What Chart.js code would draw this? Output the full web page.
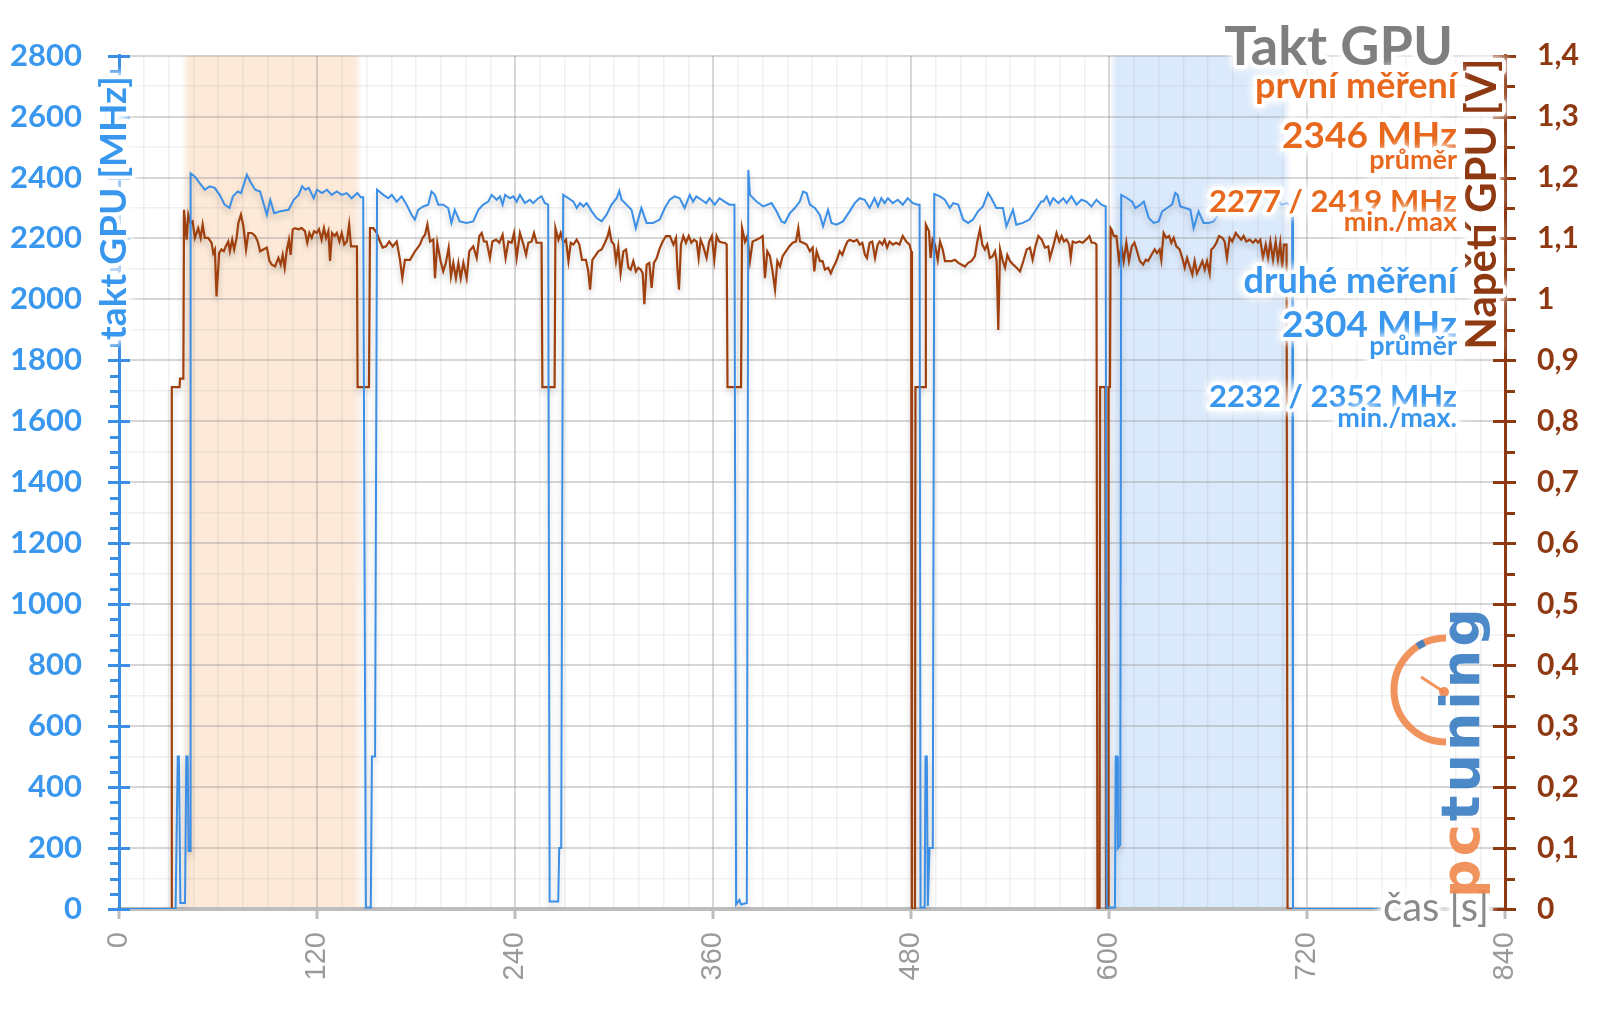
<!DOCTYPE html>
<html>
<head>
<meta charset="utf-8">
<script src="https://cdn.jsdelivr.net/npm/chart.js@4.4.1/dist/chart.umd.min.js"></script>
<style>
  html, body { margin: 0; padding: 0; background: #fff; }
  #wrap { width: 1600px; height: 1009px; }
</style>
</head>
<body>
<div id="wrap"><canvas id="chart" width="1600" height="1009"></canvas></div>
<script>
// takt GPU [MHz] v case [s]
const clockTime = [0, 34.3, 35.6, 36.3, 37.2, 40, 40.8, 41.6, 42.2, 43.1, 43.4, 46, 49, 52, 55, 58, 61, 64, 67, 69, 72, 74, 77.5, 79.5, 82.5, 85.5, 89.6, 91.7, 94, 97.8, 102.8, 105.9, 108.9, 111, 113, 115, 118, 120, 123, 126, 129, 132, 135, 138, 141, 144.5, 146.5, 148,
  149.6, 152.6, 153.3, 155.2, 156.4, 160.2, 163.2, 165.3, 168.3, 171.3, 174.3, 177.3, 179.3, 181.3, 184.4, 187.4, 189.4, 191.4, 193.5, 196.5, 199.5, 201.5, 203.5, 206.5, 210.7, 214.7, 217.8, 220.8, 223.8, 225.9, 228.9, 230.9, 232.5, 234, 237, 239, 241, 243, 246, 249, 251, 254.1, 256.1, 258.1, 260.1,
  261, 266.2, 266.8, 268, 269.2, 272.4, 275.4, 277.4, 279.4, 281.4, 283.4, 286.5, 289.5, 292.5, 295.5, 298.5, 301.6, 303.2, 304.6, 307.6, 310.6, 313.2, 316.6, 319.7, 323.7, 327.7, 330.8, 333.8, 336.8, 339.8, 342.8, 345.9, 347.9, 349.9, 352.9, 355.9, 357.9, 361, 364, 367, 370, 373,
  374, 376, 377, 380.5, 381.4, 382.4, 386.4, 390.4, 395.5, 398.5, 401.5, 403.5, 406.6, 409.6, 412.6, 414.6, 416.7, 418.7, 421.7, 424.7, 426.7, 429.7, 431.8, 434.8, 438.8, 442.8, 445.9, 448.9, 451.9, 454.9, 457.9, 460, 462, 464, 466, 469, 472, 475, 478, 481.1, 484.1, 485.2,
  485.8, 488.3, 488.8, 489.6, 490.2, 491.2, 493.2, 494.1, 497.5, 500.5, 503.5, 505.6, 508.6, 511.6, 514.6, 517.6, 520.6, 523.6, 526.7, 528.7, 531.7, 535.7, 537.8, 541.8, 543.8, 547.8, 551.8, 555.8, 558.9, 560.2, 562.2, 564.2, 566.2, 569.3, 572.3, 574.3, 577.3, 580.3, 583.3, 586.3, 589.4, 592.4, 595.4, 598,
  598.6, 603.6, 604.1, 604.9, 605.4, 606.8, 607.4, 611, 614, 616, 619.1, 621.1, 624.1, 627.1, 630.1, 632.2, 635.2, 638.2, 640.2, 641.6, 643.2, 646.3, 649.3, 651.3, 654.3, 657.3, 660.3, 663.4, 666.4, 670, 674, 678, 682, 686, 690, 694, 698, 702, 704.3, 708, 711,
  711.5, 765];
const clockMHz = [0, 0, 500, 500, 20, 20, 500, 500, 190, 190, 2414, 2403, 2381, 2360, 2371, 2366, 2343, 2311, 2300, 2338, 2354, 2349, 2409, 2387, 2360, 2354, 2278, 2327, 2283, 2289, 2294, 2327, 2343, 2371, 2360, 2366, 2332, 2360, 2349, 2360, 2343, 2354, 2343, 2349, 2332, 2349, 2335, 2335,
  5, 5, 500, 500, 2360, 2343, 2332, 2343, 2321, 2338, 2311, 2278, 2262, 2294, 2305, 2311, 2354, 2343, 2311, 2311, 2300, 2251, 2294, 2256, 2251, 2256, 2294, 2311, 2321, 2343, 2327, 2338, 2311, 2343, 2332, 2338, 2321, 2343, 2316, 2327, 2316, 2332, 2338, 2316, 2311,
  25, 25, 200, 200, 2343, 2332, 2321, 2300, 2316, 2305, 2316, 2289, 2267, 2256, 2278, 2311, 2332, 2356, 2327, 2311, 2294, 2234, 2300, 2251, 2251, 2262, 2300, 2327, 2338, 2332, 2300, 2343, 2321, 2338, 2327, 2316, 2332, 2311, 2332, 2321, 2311, 2311,
  15, 30, 15, 20, 2425, 2343, 2321, 2305, 2316, 2289, 2256, 2251, 2283, 2300, 2321, 2354, 2349, 2311, 2300, 2278, 2240, 2294, 2251, 2245, 2256, 2289, 2316, 2332, 2327, 2300, 2332, 2305, 2332, 2316, 2332, 2316, 2327, 2311, 2332, 2316, 2311, 2311,
  5, 5, 500, 500, 10, 200, 200, 2346, 2338, 2327, 2300, 2316, 2311, 2262, 2251, 2262, 2289, 2305, 2349, 2332, 2300, 2300, 2240, 2294, 2245, 2251, 2262, 2294, 2321, 2321, 2338, 2311, 2332, 2316, 2332, 2316, 2338, 2311, 2327, 2321, 2305, 2327, 2311, 2305,
  5, 5, 500, 500, 200, 210, 2343, 2332, 2321, 2300, 2311, 2321, 2267, 2251, 2256, 2289, 2300, 2311, 2349, 2343, 2305, 2300, 2294, 2234, 2289, 2251, 2251, 2256, 2278, 2300, 2321, 2332, 2316, 2327, 2321, 2335, 2321, 2332, 2311, 2316, 2300,
  0, 0];

// Napeti GPU [V] v case [s]
const voltTime = [0, 31.8, 32, 36.7, 37, 39, 39.4, 41, 42, 43.4, 44.6, 46, 48, 49.5, 50.7, 52, 54, 56.1, 57.1, 58.1, 59.1, 60.7, 62.1, 63.5, 64.7, 66.2, 67.2, 68.6, 69.8, 71.3, 72.3, 73.9, 75.4, 77, 78.4, 80.4, 82.5, 84.1, 85.5, 87.5, 89.6, 91.2, 92.6, 94.6, 96.6, 98, 99.2, 100.4, 101.6, 103, 104, 105.3, 106.7, 108.7, 110.7, 112.7, 114.1, 115.4, 116.8, 118.2, 119.8, 121.2, 122.8, 124.2, 125.5, 126.9, 127.9, 129.1, 130.6, 132, 133.6, 135, 136.5, 138.1, 139.5, 140.6, 142.2, 144.2,
  144.6, 151.5, 152.1, 154.1, 156.2, 158.2, 159.8, 161.8, 163.8, 165.9, 168.3, 170.3, 171.7, 173.3, 176.4, 179.4, 182.4, 184, 185.5, 186.9, 188.5, 190.5, 191.5, 192.9, 194.9, 196.5, 198.1, 199.8, 201.2, 202.6, 204.2, 205.7, 207.1, 208.7, 210.7, 212.3, 214.7, 216.8, 218.4, 219.8, 221.2, 222.8, 224.8, 226.3, 228.5, 230.5, 232.5, 234.3, 236, 238, 239.4, 241, 243, 245.1, 246.7, 248.1, 250.1, 251.5, 253.1, 256.1,
  256.6, 264, 264.5, 266.3, 267.7, 269.3, 270.9, 272.4, 273.8, 275.4, 277.4, 279, 280.6, 283, 284.4, 285.5, 286.9, 288.5, 290.5, 292.5, 294.5, 296.2, 297.2, 298.5, 300, 301.2, 302.6, 304, 305.7, 307.3, 308.7, 310.1, 311.7, 313.3, 314.7, 316.2, 317.4, 318.4, 319.8, 321.4, 322.8, 324.2, 325.9, 327.5, 329.5, 331.5, 333.9, 336, 337.6, 338.4, 339.4, 340.6, 342, 343.6, 345.3, 346.9, 348.5, 350.1, 351.3, 352.5, 354.1, 356.1, 357.7, 359.3, 360.8, 362.2, 363.8, 365.8, 367.2, 368.3,
  368.8, 377, 377.6, 379.4, 380.8, 382.4, 384, 386.4, 388.5, 390.1, 391.5, 392.9, 394.5, 396.1, 397.6, 399, 400.6, 402.2, 404.2, 406.2, 408.3, 410.3, 411.7, 412.7, 414.7, 416.7, 418.7, 420.4, 421.4, 422.8, 424.8, 426.4, 427.8, 429.8, 431.4, 432.8, 434.8, 436.8, 438.4, 439.9, 441.5, 442.9, 445.3, 447.3, 448.9, 450.5, 452.1, 453.3, 454.9, 456.5, 458.2, 459.8, 461, 462.6, 464, 465.5, 467, 469, 471, 473, 475, 477.1, 479.1, 480.1,
  480.6, 482.4, 482.7, 488.5, 489, 490.9, 491.9, 493.1, 494.5, 496.2, 497.6, 499.2, 500.6, 502.6, 504.6, 506.6, 508.7, 510.7, 512.7, 514.7, 516.7, 518.7, 520.2, 521.8, 523.2, 524.8, 526.2, 527.8, 529.5, 530.9, 531.9, 532.9, 534, 535.6, 537, 538.4, 540, 542, 544, 546.1, 548.1, 550.1, 552.1, 553.7, 555.4, 557.2, 559.2, 561.2, 563.2, 564.2, 566.2, 568.2, 569.9, 571.3, 572.7, 574.3, 575.9, 576.8, 578, 580, 582, 584, 586.1, 588.1, 589.5, 591.1, 592.4,
  593, 594.3, 594.6, 597.8, 598.2, 599.4, 599.7, 600.6, 601, 601.5, 602.9, 604.5, 606.1, 607.5, 608.9, 610.5, 612.1, 613.8, 615.4, 617, 618.7, 620.7, 622.3, 623.7, 625.7, 627.7, 629.1, 630.7, 631.7, 633.1, 634.7, 636.4, 637.8, 639.2, 640.8, 642.8, 644.4, 645.9, 647.3, 648.9, 650.5, 651.9, 653.3, 654.9, 656.6, 658, 659.4, 661, 662, 663.4, 665.1, 666.7, 668.7, 670.1, 671.5, 673.1, 674.7, 676.8, 678.2, 680.2, 681.6, 683.2, 685.3, 687.3, 688.9, 690.3, 691.7, 693.3, 695, 696.4, 697.8, 699.4, 701, 702.4, 703.8, 705, 706, 707.6,
  708.2, 765];
const voltV = [0, 0, 0.856, 0.856, 0.87, 0.87, 1.147, 1.098, 1.139, 1.125, 1.128, 1.101, 1.117, 1.101, 1.123, 1.101, 1.101, 1.093, 1.076, 1.082, 1.005, 1.076, 1.082, 1.079, 1.087, 1.095, 1.079, 1.098, 1.082, 1.101, 1.125, 1.139, 1.12, 1.082, 1.109, 1.109, 1.104, 1.095, 1.079, 1.082, 1.085, 1.063, 1.057, 1.054, 1.068, 1.057, 1.073, 1.052, 1.079, 1.098, 1.073, 1.115, 1.117, 1.115, 1.117, 1.112, 1.093, 1.109, 1.101, 1.112, 1.109, 1.115, 1.098, 1.117, 1.101, 1.112, 1.063, 1.109, 1.104, 1.109, 1.095, 1.109, 1.09, 1.095, 1.123, 1.087, 1.087, 1.087,
  0.856, 0.856, 1.117, 1.117, 1.109, 1.095, 1.085, 1.087, 1.095, 1.087, 1.095, 1.065, 1.035, 1.065, 1.065, 1.079, 1.09, 1.101, 1.106, 1.123, 1.095, 1.098, 1.035, 1.093, 1.063, 1.046, 1.06, 1.085, 1.038, 1.06, 1.035, 1.06, 1.035, 1.06, 1.035, 1.079, 1.087, 1.068, 1.104, 1.109, 1.095, 1.095, 1.068, 1.095, 1.098, 1.093, 1.106, 1.068, 1.095, 1.093, 1.109, 1.068, 1.109, 1.09, 1.073, 1.093, 1.095, 1.109, 1.093, 1.093,
  0.856, 0.856, 1.117, 1.098, 1.109, 1.093, 1.098, 1.063, 1.093, 1.09, 1.098, 1.09, 1.065, 1.065, 1.046, 1.016, 1.065, 1.071, 1.079, 1.082, 1.093, 1.104, 1.115, 1.095, 1.09, 1.063, 1.087, 1.043, 1.079, 1.082, 1.052, 1.049, 1.063, 1.046, 1.052, 1.049, 1.043, 0.992, 1.057, 1.06, 1.019, 1.06, 1.068, 1.082, 1.095, 1.104, 1.104, 1.09, 1.101, 1.052, 1.016, 1.09, 1.104, 1.093, 1.104, 1.093, 1.098, 1.095, 1.068, 1.098, 1.087, 1.068, 1.095, 1.104, 1.065, 1.104, 1.095, 1.093, 1.093, 1.09,
  0.856, 0.856, 1.117, 1.095, 1.104, 1.063, 1.095, 1.098, 1.101, 1.104, 1.035, 1.079, 1.071, 1.046, 1.016, 1.063, 1.054, 1.071, 1.079, 1.087, 1.093, 1.095, 1.117, 1.095, 1.093, 1.09, 1.079, 1.085, 1.046, 1.079, 1.063, 1.063, 1.049, 1.052, 1.043, 1.052, 1.063, 1.079, 1.073, 1.085, 1.095, 1.098, 1.095, 1.098, 1.09, 1.093, 1.073, 1.068, 1.093, 1.095, 1.068, 1.09, 1.095, 1.09, 1.098, 1.085, 1.095, 1.09, 1.093, 1.09, 1.104, 1.095, 1.09, 1.079,
  0, 0, 0.856, 0.856, 1.123, 1.112, 1.068, 1.098, 1.09, 1.065, 1.095, 1.082, 1.063, 1.063, 1.063, 1.065, 1.06, 1.057, 1.054, 1.06, 1.063, 1.071, 1.095, 1.115, 1.09, 1.082, 1.09, 1.068, 1.071, 1.079, 1.063, 0.95, 1.082, 1.063, 1.052, 1.073, 1.063, 1.057, 1.052, 1.046, 1.063, 1.082, 1.085, 1.065, 1.087, 1.104, 1.098, 1.085, 1.087, 1.068, 1.087, 1.109, 1.095, 1.104, 1.095, 1.098, 1.09, 1.068, 1.095, 1.093, 1.095, 1.093, 1.098, 1.104, 1.093, 1.093, 1.09,
  0, 0, 0.856, 0.856, 0, 0, 0.856, 0.856, 1.117, 1.115, 1.104, 1.104, 1.063, 1.087, 1.063, 1.093, 1.063, 1.087, 1.093, 1.079, 1.063, 1.057, 1.065, 1.063, 1.073, 1.082, 1.076, 1.082, 1.065, 1.109, 1.101, 1.104, 1.093, 1.101, 1.087, 1.082, 1.068, 1.052, 1.068, 1.054, 1.041, 1.063, 1.043, 1.052, 1.063, 1.049, 1.063, 1.043, 1.082, 1.085, 1.093, 1.104, 1.101, 1.095, 1.068, 1.101, 1.095, 1.109, 1.104, 1.098, 1.104, 1.095, 1.098, 1.093, 1.098, 1.093, 1.098, 1.068, 1.09, 1.068, 1.095, 1.065, 1.095, 1.065, 1.093, 1.052, 1.09, 1.09,
  0, 0];

// zvyraznene useky mereni [s]
const shadeFrom = [40, 602.5];
const shadeTo = [145, 708];
const shadeRgb = ["252,233,216", "218,233,251"];

const BLUE = "#3b8fe6";
const BLUE_TXT = "#3a97ee";
const BROWN = "#a0400e";
const BROWN_TXT = "#8e3911";
const ORANGE_TXT = "#e8691d";
const GRAY_TXT = "#7f7f7f";

function glowText(ctx, txt, x, y, font, color, align) {
  ctx.save();
  ctx.font = font;
  ctx.textAlign = align || "right";
  ctx.textBaseline = "alphabetic";
  ctx.lineJoin = "round";
  ctx.shadowColor = "#ffffff";
  ctx.shadowBlur = 10;
  ctx.strokeStyle = "rgba(255,255,255,0.95)";
  ctx.lineWidth = 7;
  ctx.strokeText(txt, x, y);
  ctx.strokeText(txt, x, y);
  ctx.shadowBlur = 0;
  ctx.fillStyle = color;
  ctx.fillText(txt, x, y);
  ctx.restore();
}

// podbarveni useku
const shadePlugin = {
  id: "shade",
  beforeDraw(chart) {
    const { ctx, chartArea: a, scales: { x } } = chart;
    ctx.save();
    shadeFrom.forEach((t0, i) => {
      const x0 = x.getPixelForValue(t0) - 4;
      const x1 = x.getPixelForValue(shadeTo[i]) + 4;
      const e = 8 / (x1 - x0);
      const g = ctx.createLinearGradient(x0, 0, x1, 0);
      g.addColorStop(0, `rgba(${shadeRgb[i]},0)`);
      g.addColorStop(e, `rgba(${shadeRgb[i]},1)`);
      g.addColorStop(1 - e, `rgba(${shadeRgb[i]},1)`);
      g.addColorStop(1, `rgba(${shadeRgb[i]},0)`);
      ctx.fillStyle = g;
      ctx.fillRect(x0, a.top, x1 - x0, a.bottom - a.top);
    });
    ctx.restore();
  }
};

// jemny stin pod krivkami
const lineShadow = {
  id: "lineShadow",
  beforeDatasetDraw(chart) {
    const ctx = chart.ctx;
    ctx.save();
    ctx.shadowColor = "rgba(0,0,0,0.2)";
    ctx.shadowBlur = 6;
    ctx.shadowOffsetY = 4;
  },
  afterDatasetDraw(chart) {
    chart.ctx.restore();
  }
};

// osy, popisky, logo
const decor = {
  id: "decor",
  afterDraw(chart) {
    const { ctx, chartArea: a, scales: { y, y1 } } = chart;
    ctx.save();
    ctx.lineWidth = 3;
    ctx.strokeStyle = BLUE;
    for (let v = 0; v <= 2800; v += 50) {
      const py = Math.round(y.getPixelForValue(v)) + 0.5;
      ctx.beginPath();
      if (v % 200 === 0) { ctx.moveTo(a.left - 11, py); ctx.lineTo(a.left + 11, py); }
      else { ctx.moveTo(a.left - 9, py); ctx.lineTo(a.left, py); }
      ctx.stroke();
    }
    ctx.strokeStyle = BROWN_TXT;
    for (let k = 0; k <= 28; k++) {
      const py = Math.round(y1.getPixelForValue(k / 20)) + 0.5;
      ctx.beginPath();
      if (k % 2 === 0) { ctx.moveTo(a.right - 12, py); ctx.lineTo(a.right + 11, py); }
      else { ctx.moveTo(a.right, py); ctx.lineTo(a.right + 10, py); }
      ctx.stroke();
    }
    ctx.restore();

    // nazvy os
    ctx.save();
    ctx.translate(126, 208);
    ctx.rotate(-Math.PI / 2);
    glowText(ctx, "takt GPU [MHz]", 0, 0, "bold 37px Lato", BLUE_TXT, "center");
    ctx.restore();
    ctx.save();
    ctx.translate(1496, 204);
    ctx.rotate(-Math.PI / 2);
    glowText(ctx, "Napětí GPU [V]", 0, 0, "bold 42px Lato", BROWN_TXT, "center");
    ctx.restore();

    glowText(ctx, "čas [s]", 1489, 921, "40px Lato", "#8a8a8a", "right");

    // logo pctuning
    ctx.save();
    ctx.globalAlpha = 0.92;
    ctx.strokeStyle = "#f08a4f";
    ctx.lineWidth = 7;
    ctx.beginPath();
    ctx.arc(1446, 690, 52, -Math.PI / 2, Math.PI / 2, true);
    ctx.stroke();
    ctx.lineWidth = 3;
    ctx.beginPath();
    ctx.moveTo(1444, 692);
    ctx.lineTo(1421, 677);
    ctx.stroke();
    ctx.fillStyle = "#f08a4f";
    ctx.beginPath();
    ctx.arc(1444, 692, 5, 0, Math.PI * 2);
    ctx.fill();
    ctx.strokeStyle = "#3d7fc4";
    ctx.lineWidth = 7;
    ctx.beginPath();
    ctx.arc(1446, 690, 52, -2.15, -2.0, false);
    ctx.stroke();
    ctx.translate(1479, 898);
    ctx.rotate(-Math.PI / 2);
    ctx.font = "bold 54px 'DejaVu Sans'";
    ctx.textBaseline = "alphabetic";
    let px = 0;
    "pctuning".split("").forEach((ch, i) => {
      ctx.fillStyle = i < 2 ? "#f08a4f" : "#3d7fc4";
      ctx.fillText(ch, px, 0);
      px += ctx.measureText(ch).width + 3;
    });
    ctx.restore();

    // titulek a vysledky
    glowText(ctx, "Takt GPU", 1453, 65, "bold 54px Lato", GRAY_TXT);
    glowText(ctx, "první měření", 1457, 98, "bold 36px Lato", ORANGE_TXT);
    glowText(ctx, "2346 MHz", 1457, 148, "bold 37px Lato", ORANGE_TXT);
    glowText(ctx, "průměr", 1457, 169, "bold 27px Lato", ORANGE_TXT);
    glowText(ctx, "2277 / 2419 MHz", 1457, 212, "bold 31px Lato", ORANGE_TXT);
    glowText(ctx, "min./max", 1457, 231, "bold 27px Lato", ORANGE_TXT);
    glowText(ctx, "druhé měření", 1457, 293, "bold 36px Lato", BLUE_TXT);
    glowText(ctx, "2304 MHz", 1457, 337, "bold 37px Lato", BLUE_TXT);
    glowText(ctx, "průměr", 1457, 355, "bold 27px Lato", BLUE_TXT);
    glowText(ctx, "2232 / 2352 MHz", 1457, 407, "bold 31px Lato", BLUE_TXT);
    glowText(ctx, "min./max.", 1457, 427, "bold 27px Lato", BLUE_TXT);
  }
};

const ctx = document.getElementById("chart").getContext("2d");
new Chart(ctx, {
  type: "line",
  data: {
    datasets: [
      {
        label: "takt GPU",
        data: clockTime.map((t, i) => ({ x: t, y: clockMHz[i] })),
        yAxisID: "y",
        borderColor: BLUE,
        borderWidth: 2,
        pointRadius: 0,
        tension: 0,
        order: 1
      },
      {
        label: "Napětí GPU",
        data: voltTime.map((t, i) => ({ x: t, y: voltV[i] })),
        yAxisID: "y1",
        borderColor: BROWN,
        borderWidth: 2.2,
        pointRadius: 0,
        tension: 0,
        order: 2
      }
    ]
  },
  options: {
    responsive: false,
    animation: false,
    layout: { padding: { top: 54, left: 0, right: 0, bottom: 0 } },
    plugins: { legend: { display: false }, tooltip: { enabled: false } },
    scales: {
      x: {
        type: "linear",
        min: 0,
        max: 840,
        afterFit: (s) => { s.height = 100; },
        ticks: {
          stepSize: 15,
          autoSkip: false,
          minRotation: 90,
          maxRotation: 90,
          padding: 13,
          color: "#9a9a9a",
          font: { family: "'Liberation Sans'", size: 29 },
          callback: (v) => (v % 120 === 0 ? String(v) : "")
        },
        grid: {
          color: (c) => (c.tick && c.tick.value % 120 === 0 ? "rgba(150,150,150,0.38)" : "rgba(160,160,160,0.16)"),
          lineWidth: (c) => (c.tick && c.tick.value % 120 === 0 ? 2 : 1.5),
          drawTicks: true,
          tickLength: 10,
          tickWidth: 3,
          tickColor: (c) => (c.tick && c.tick.value % 120 === 0 ? "#bdbdbd" : "rgba(0,0,0,0)")
        },
        border: { color: "#bdbdbd", width: 4 }
      },
      y: {
        position: "left",
        min: 0,
        max: 2800,
        afterFit: (s) => { s.width = 119; },
        ticks: {
          stepSize: 50,
          autoSkip: false,
          padding: 37,
          color: BLUE_TXT,
          font: { family: "Lato", weight: "bold", size: 31 },
          callback: (v) => (v % 200 === 0 ? String(v) : "")
        },
        grid: {
          color: (c) => {
            const v = c.tick ? c.tick.value : 0;
            if (v % 200 === 0) return "rgba(150,150,150,0.38)";
            if (v % 100 === 0) return "rgba(160,160,160,0.16)";
            return "rgba(0,0,0,0)";
          },
          lineWidth: (c) => (c.tick && c.tick.value % 200 === 0 ? 2 : 1.5),
          drawTicks: false
        },
        border: { color: BLUE, width: 3 }
      },
      y1: {
        position: "right",
        min: 0,
        max: 1.4,
        afterFit: (s) => { s.width = 95; },
        ticks: {
          stepSize: 0.05,
          autoSkip: false,
          padding: 32,
          color: BROWN_TXT,
          font: { family: "Lato", weight: "bold", size: 30 },
          callback: (v) => {
            const k = Math.round(v * 20);
            return k % 2 === 0 ? String(k / 20).replace(".", ",") : "";
          }
        },
        grid: { drawOnChartArea: false, drawTicks: false },
        border: { color: BROWN_TXT, width: 3 }
      }
    }
  },
  plugins: [shadePlugin, lineShadow, decor]
});
</script>
</body>
</html>
